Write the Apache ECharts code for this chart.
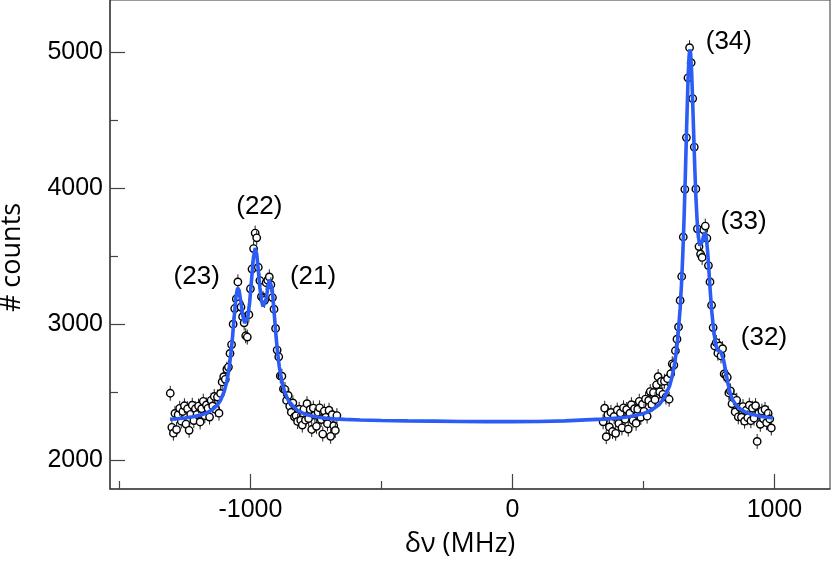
<!DOCTYPE html>
<html>
<head>
<meta charset="utf-8">
<script src="https://cdn.jsdelivr.net/npm/echarts@6.0.0/dist/echarts.min.js"></script>
<style>
html,body{margin:0;padding:0;background:#fff;}
#chart{width:832px;height:565px;}
</style>
</head>
<body>
<div id="chart"></div>
<script>
// ---- data ----
var xTickLabels = [-1000, 0, 1000];
var xMinorTicks = [-1500, -500, 500];
var yTickLabels = [2000, 3000, 4000, 5000];
var yMinorTicks = [2500, 3500, 4500];
var xTitle = 'δν (MHz)';
var yTitle = '# counts';
var errHalf = 55; // error-bar half length in counts

// measured counts, left group [δν, counts]
var leftPoints = [
[-1306,2493],[-1300,2243],[-1294,2200],[-1288,2345],[-1282,2226],[-1276,2336],[-1270,2382],[-1264,2288],
[-1258,2359],[-1252,2401],[-1246,2267],[-1240,2379],[-1234,2221],[-1228,2338],[-1222,2405],[-1216,2292],
[-1210,2379],[-1204,2337],[-1198,2399],[-1192,2282],[-1186,2380],[-1180,2434],[-1174,2328],[-1168,2407],
[-1162,2382],[-1156,2318],[-1150,2441],[-1144,2400],[-1138,2469],[-1132,2374],[-1126,2465],[-1120,2347],
[-1114,2492],[-1108,2576],[-1102,2615],[-1096,2595],[-1090,2670],[-1084,2685],[-1078,2785],[-1072,2850],
[-1066,3000],[-1060,3115],[-1054,3185],[-1048,3310],[-1042,3150],[-1036,3126],[-1030,3055],[-1024,3010],
[-1018,2915],[-1012,2905],[-1006,3070],[-1000,3260],[-994,3405],[-988,3555],[-982,3669],[-976,3634],
[-970,3418],[-964,3320],[-958,3202],[-952,3189],[-946,3175],[-940,3305],[-934,3323],[-928,3347],
[-922,3290],[-916,3195],[-910,3110],[-904,2969],[-898,2810],[-892,2760],[-886,2620],[-880,2618],
[-874,2525],[-868,2520],[-862,2440],[-856,2477],[-850,2398],[-844,2354],[-838,2422],[-832,2320],
[-826,2328],[-820,2286],[-814,2376],[-808,2295],[-802,2259],[-796,2375],[-790,2295],[-784,2416],
[-778,2307],[-772,2374],[-766,2227],[-760,2384],[-754,2332],[-748,2250],[-742,2353],[-736,2386],
[-730,2300],[-724,2193],[-718,2362],[-712,2316],[-706,2269],[-700,2368],[-694,2177],[-688,2336],
[-682,2255],[-676,2220],[-670,2329]
];

// measured counts, right group [δν, counts]
var rightPoints = [
[346,2283],[352,2383],[358,2174],[364,2335],[370,2246],[376,2352],[382,2212],[388,2323],
[394,2199],[400,2370],[406,2271],[412,2348],[418,2239],[424,2386],[430,2302],[436,2374],
[442,2230],[448,2347],[454,2409],[460,2292],[466,2380],[472,2273],[478,2376],[484,2434],
[490,2316],[496,2413],[502,2360],[508,2450],[514,2325],[520,2440],[526,2505],[532,2410],
[538,2498],[544,2446],[550,2555],[556,2615],[562,2504],[568,2580],[574,2485],[580,2581],
[586,2465],[592,2600],[598,2449],[604,2636],[610,2709],[616,2700],[622,2805],[628,2890],
[634,2980],[640,3174],[646,3350],[652,3640],[658,3990],[664,4370],[670,4809],[676,5030],
[682,4920],[688,4656],[694,4300],[700,3993],[706,3700],[712,3570],[718,3515],[724,3490],
[730,3693],[736,3720],[742,3630],[748,3430],[754,3310],[760,3139],[766,2975],[772,2840],
[778,2865],[784,2787],[790,2840],[796,2767],[802,2820],[808,2635],[814,2625],[820,2610],
[826,2495],[832,2510],[838,2415],[844,2460],[850,2356],[856,2441],[862,2320],[868,2390],
[874,2317],[880,2395],[886,2288],[892,2368],[898,2313],[904,2405],[910,2291],[916,2383],
[922,2310],[928,2402],[934,2139],[940,2347],[946,2265],[952,2362],[958,2305],[964,2374],
[970,2277],[976,2346],[982,2304],[988,2238]
];

// fitted curve [δν, counts]
var fitCurve = [
[-1307,2302],[-1280,2306],[-1250,2311],[-1220,2320],[-1190,2333],[-1170,2345],[-1150,2366],[-1130,2398],
[-1115,2438],[-1100,2506],[-1090,2580],[-1080,2694],[-1070,2869],[-1062,3052],[-1055,3202],[-1049,3267],
[-1043,3246],[-1036,3156],[-1029,3061],[-1022,3008],[-1016,3009],[-1010,3053],[-1003,3160],[-996,3318],
[-989,3483],[-982,3559],[-976,3514],[-970,3398],[-964,3270],[-958,3177],[-952,3129],[-946,3135],
[-940,3185],[-934,3263],[-928,3327],[-923,3333],[-917,3258],[-911,3123],[-904,2949],[-897,2802],
[-890,2689],[-880,2578],[-870,2507],[-855,2439],[-840,2405],[-820,2366],[-800,2347],[-780,2333],
[-760,2324],[-740,2317],[-710,2310],[-680,2305],[-640,2301],[-580,2297],[-500,2293],[-400,2290],
[-300,2288],[-200,2286],[-100,2285],[0,2285],[100,2286],[200,2290],[300,2299],[350,2303],
[400,2310],[450,2322],[500,2344],[530,2368],[560,2410],[580,2461],[600,2548],[610,2619],
[620,2720],[630,2874],[640,3114],[645,3286],[650,3504],[655,3775],[660,4102],[665,4460],
[670,4789],[674,4964],[677,5017],[680,4990],[684,4848],[688,4626],[692,4379],[696,4143],
[700,3943],[705,3755],[710,3636],[715,3577],[720,3574],[725,3608],[730,3653],[735,3673],
[740,3635],[745,3532],[750,3390],[755,3241],[760,3109],[765,3013],[770,2930],[775,2860],
[780,2820],[785,2805],[790,2800],[795,2798],[800,2785],[806,2735],[812,2675],[820,2590],
[830,2500],[840,2445],[855,2402],[870,2377],[890,2354],[910,2341],[930,2331],[950,2323],
[970,2317],[993,2312]
];

// peak labels and their anchor positions [δν, counts]
var peakNames = ['(23)', '(22)', '(21)', '(34)', '(33)', '(32)'];
var peakAnchors = [[-1205,3350],[-966,3865],[-761,3350],[826,5071],[882,3754],[960,2903]];

// ---- chart ----
var X_MIN = -1536, X_MAX = 1212, Y_MIN = 1790, Y_MAX = 5380;
var tickFont = {fontFamily:'Liberation Sans, Arial, sans-serif', fontSize:25, color:'#000'};
var axisGray = '#444';

function pointsRender(params, api){
  var x = api.value(0), y = api.value(1);
  var p = api.coord([x, y]);
  var t = api.coord([x, y + errHalf]);
  var b = api.coord([x, y - errHalf]);
  return {type:'group', children:[
    {type:'line', shape:{x1:p[0], y1:t[1], x2:p[0], y2:b[1]}, style:{stroke:'#222', lineWidth:1}},
    {type:'circle', shape:{cx:p[0], cy:p[1], r:3.7}, style:{fill:'#fff', stroke:'#000', lineWidth:1.4}}
  ]};
}

var chart = echarts.init(document.getElementById('chart'), null, {renderer:'canvas'});
chart.setOption({
  animation:false,
  backgroundColor:'#fff',
  grid:{left:110, right:2, top:0, bottom:76, containLabel:false, outerBoundsMode:'none',
        show:true, borderColor:'#333', borderWidth:1, backgroundColor:'transparent'},
  xAxis:[
    {type:'value', min:X_MIN, max:X_MAX, position:'bottom',
     name:xTitle, nameLocation:'middle', nameGap:42,
     nameTextStyle:{fontFamily:'Open Sans, DejaVu Sans, sans-serif', fontSize:27, color:'#000', padding:[0,20,0,0]},
     axisLine:{show:true, onZero:false, lineStyle:{color:axisGray, width:1.5}},
     axisTick:{show:true, inside:true, length:15, customValues:xTickLabels, lineStyle:{color:axisGray, width:1.2}},
     axisLabel:Object.assign({show:true, margin:9, customValues:xTickLabels,
       formatter:function(v){ return String(v); }}, tickFont),
     splitLine:{show:false}},
    {type:'value', min:X_MIN, max:X_MAX, position:'bottom',
     axisLine:{show:false, onZero:false},
     axisTick:{show:true, inside:true, length:8, customValues:xMinorTicks, lineStyle:{color:axisGray, width:1.2}},
     axisLabel:{show:false}, splitLine:{show:false}}
  ],
  yAxis:[
    {type:'value', min:Y_MIN, max:Y_MAX, position:'left',
     name:yTitle, nameLocation:'middle', nameGap:84,
     nameTextStyle:{fontFamily:'Open Sans, DejaVu Sans, sans-serif', fontSize:27, color:'#000', padding:[0,26,0,0]},
     axisLine:{show:true, onZero:false, lineStyle:{color:axisGray, width:1.5}},
     axisTick:{show:true, inside:true, length:15, customValues:yTickLabels, lineStyle:{color:axisGray, width:1.2}},
     axisLabel:Object.assign({show:true, margin:7, customValues:yTickLabels,
       formatter:function(v){ return String(v); }}, tickFont),
     splitLine:{show:false}},
    {type:'value', min:Y_MIN, max:Y_MAX, position:'left',
     axisLine:{show:false, onZero:false},
     axisTick:{show:true, inside:true, length:8, customValues:yMinorTicks, lineStyle:{color:axisGray, width:1.2}},
     axisLabel:{show:false}, splitLine:{show:false}}
  ],
  series:[
    {type:'custom', name:'data (left)', xAxisIndex:0, yAxisIndex:0, data:leftPoints,
     encode:{x:0, y:1}, renderItem:pointsRender, z:2},
    {type:'custom', name:'data (right)', xAxisIndex:0, yAxisIndex:0, data:rightPoints,
     encode:{x:0, y:1}, renderItem:pointsRender, z:2},
    {type:'line', name:'fit', xAxisIndex:0, yAxisIndex:0, data:fitCurve, showSymbol:false, smooth:false,
     lineStyle:{color:'#2b5cf5', width:3.6}, z:5},
    {type:'scatter', name:'labels', xAxisIndex:0, yAxisIndex:0, symbolSize:1,
     itemStyle:{color:'rgba(0,0,0,0)'},
     data:peakAnchors.map(function(p, i){ return {name:peakNames[i], value:p}; }),
     label:{show:true, position:'inside', formatter:'{b}', opacity:1,
       textBorderWidth:0, textBorderColor:'transparent',
       fontFamily:'Liberation Sans, Arial, sans-serif', fontSize:26, color:'#000'},
     z:6}
  ]
});
</script>
</body>
</html>
